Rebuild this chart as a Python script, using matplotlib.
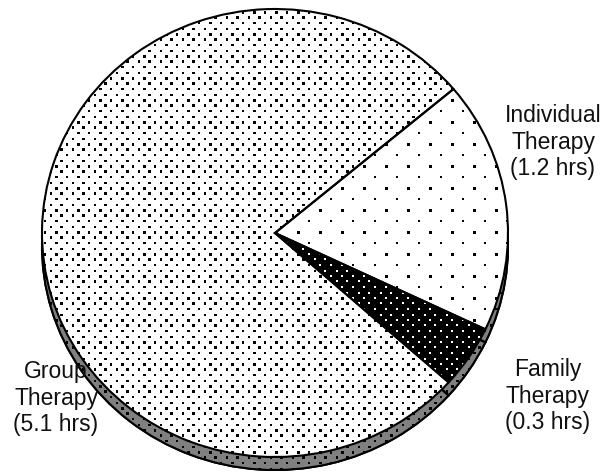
import numpy as np
import matplotlib
matplotlib.use('Agg')
import matplotlib.pyplot as plt

# data
labels=['Individual\nTherapy\n(1.2 hrs)','Family\nTherapy\n(0.3 hrs)','Group\nTherapy\n(5.1 hrs)']
hours=[1.2,0.3,5.1]
label_xy_px=[(553,142),(548,396),(56,398)]  # label centres, pixels

W,H=604,474
cx,cy=275,233   # pie centre (px)
rx,ry=233,224   # ellipse radii (px)
depth=13        # 3-D rim thickness (px)

def to_data(px,py):
  return (np.asarray(px)-cx)/rx,(cy-np.asarray(py))/ry

fig=plt.figure(figsize=(W/100,H/100),dpi=100)
ax=fig.add_axes([0,0,1,1])
x0,x1=-cx/rx,(W-cx)/rx
y0,y1=(cy-H)/ry,cy/ry

def texture(step,bg,fg,dot):
  ' staggered square-dot pattern as an RGB image '
  img=np.empty((H,W,3))
  img[:]=matplotlib.colors.to_rgb(bg)
  fgc=matplotlib.colors.to_rgb(fg)
  half=step/2
  for j in range(int(H/half)+2):
    for i in range(int(W/half)+2):
      if (i+j)%2: continue
      a,b=int(round(i*half)),int(round(i*half+dot))
      c,d=int(round(j*half)),int(round(j*half+dot))
      img[c:d,a:b]=fgc
  return img

def fill(wedge,step,bg,fg,dot,z):
  im=ax.imshow(texture(step,bg,fg,dot),extent=(x0,x1,y0,y1),origin='upper',
    interpolation='nearest',zorder=z,aspect='auto')
  im.set_clip_path(wedge)

styles=[  # background, dot colour, dot step (px), dot size (px)
  ('white','black',22,2.5),
  ('black','white',11,2.0),
  ('white','black',11,2.5),
]

# rim (shifted copy underneath)
bot,_=ax.pie(hours,radius=1,center=(0,-depth/ry),startangle=40,counterclock=False,
  frame=True,wedgeprops=dict(facecolor='#808080',edgecolor='black',lw=1.5))
for w in bot:
  w.set_zorder(1)
  fill(w,11,'#808080','black',2.5,2)
bot2,_=ax.pie(hours,radius=1,center=(0,-depth/ry),startangle=40,counterclock=False,
  frame=True,wedgeprops=dict(fill=False,edgecolor='black',lw=1.5))
for w in bot2: w.set_zorder(2.5)

# top face
top,_=ax.pie(hours,radius=1,center=(0,0),startangle=40,counterclock=False,
  frame=True,wedgeprops=dict(edgecolor='none'))
for w,(bg,fg,st,dot) in zip(top,styles):
  w.set_facecolor(bg)
  w.set_zorder(3)
  fill(w,st,bg,fg,dot,4)
edge,_=ax.pie(hours,radius=1,center=(0,0),startangle=40,counterclock=False,
  frame=True,wedgeprops=dict(fill=False,edgecolor='black',lw=1.5))
for w in edge: w.set_zorder(5)

for lab,(px,py) in zip(labels,label_xy_px):
  x,y=to_data(px,py)
  ax.text(x,y,lab,ha='center',va='center',fontsize=16.5,family='Liberation Sans',
    color='#111111',zorder=6,linespacing=1.2)

ax.set_aspect('auto')
ax.set_xlim(x0,x1)
ax.set_ylim(y0,y1)
ax.axis('off')
fig.savefig('out.png',dpi=100)
